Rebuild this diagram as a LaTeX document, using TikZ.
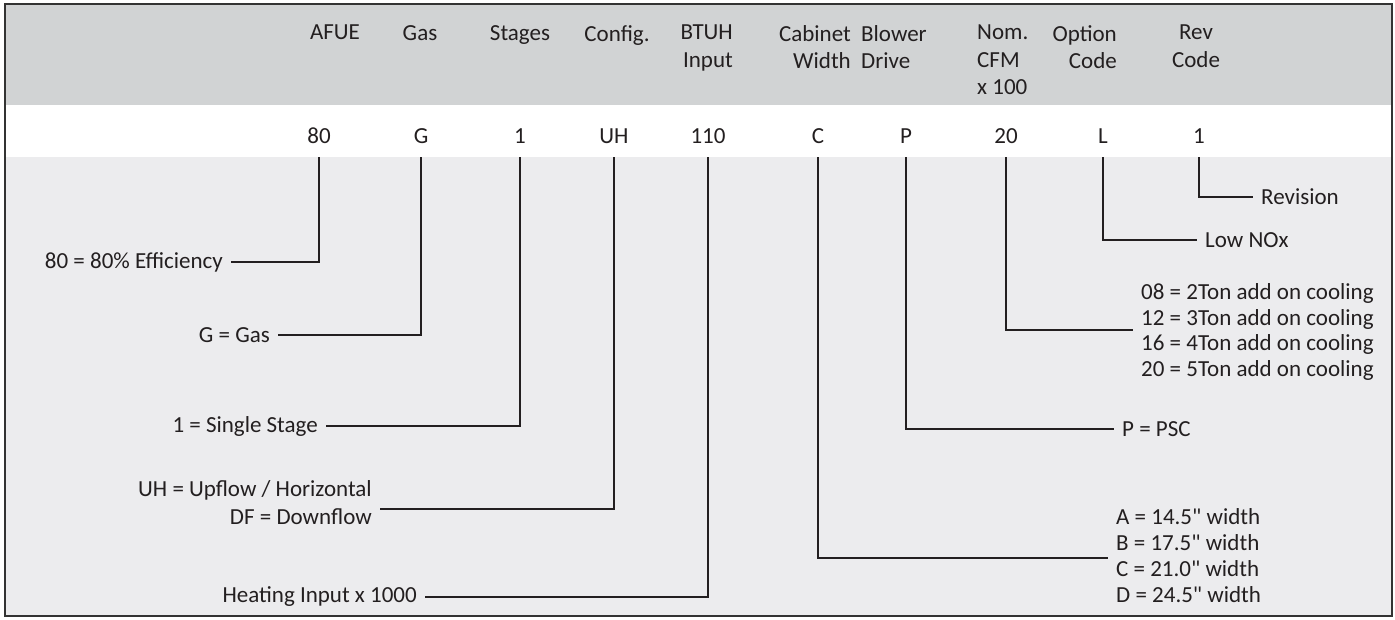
\documentclass[tikz,border=0pt]{standalone}
\usepackage{fontspec}
\setmainfont{Carlito}
\definecolor{hdr}{HTML}{D1D3D4}
\definecolor{bodygray}{HTML}{ECECEE}
\definecolor{ink}{HTML}{231F20}
\begin{document}
\begin{tikzpicture}[x=1pt,y=-1pt,
  txt/.style={font=\fontsize{23}{27.5}\selectfont, text=ink, inner sep=0pt},
  hd/.style={txt, anchor=north},
  val/.style={txt, anchor=base, text depth=14pt},
  lab/.style={txt, inner xsep=8pt},
  conn/.style={draw=ink, line width=2.2pt},
]
\useasboundingbox (0,0) rectangle (1395,619);
\fill[hdr] (5,4) rectangle (1392,105);
\fill[white] (5,105) rectangle (1392,157);
\fill[bodygray] (5,157) rectangle (1392,616);
\draw[line width=1.8pt, draw=black!80] (5,4) rectangle (1392,616);

% header
\node[hd] (hAFUE) at (335,25) {AFUE};
\node[hd] (hGas) at (420,25) {Gas};
\node[hd] (hStg) at (520,25) {Stages};
\node[hd] (hCfg) at (617,25) {Config.};
\node[hd, anchor=north east, align=right] (hBTU) at (733,25) {BTUH\\Input};
\node[hd, anchor=north east, align=right] (hCab) at (851,25) {Cabinet\\Width};
\node[hd, anchor=north west, align=left] (hBlw) at (861,25) {Blower\\Drive};
\node[hd, anchor=north west, align=left] (hCFM) at (977,25) {Nom.\\CFM\\x 100};
\node[hd, anchor=north east, align=right] (hOpt) at (1117,25) {Option\\Code};
\node[hd, align=center] (hRev) at (1196,25) {Rev\\Code};

% values
\node[val] (v80) at (319,143) {80};
\node[val] (vG) at (421,143) {G};
\node[val] (v1) at (520,143) {1};
\node[val] (vUH) at (614,143) {UH};
\node[val] (v110) at (708,143) {110};
\node[val] (vC) at (818,143) {C};
\node[val] (vP) at (906,143) {P};
\node[val] (v20) at (1006,143) {20};
\node[val] (vL) at (1103,143) {L};
\node[val] (vR) at (1199,143) {1};

% labels
\node[lab, anchor=east] (l80) at (231,262) {80 = 80\% Efficiency};
\node[lab, anchor=east] (lG) at (278,335) {G = Gas};
\node[lab, anchor=east] (l1) at (326,426) {1 = Single Stage};
\node[lab, anchor=east, align=right, font=\fontsize{23}{28}\selectfont] (lUH) at (380,503) {UH = Upflow / Horizontal\\DF = Downflow};
\node[lab, anchor=east] (lHI) at (425,597) {Heating Input x 1000};
\node[lab, anchor=west] (lRev) at (1253,197) {Revision};
\node[lab, anchor=west] (lNOx) at (1197,240) {Low NOx};
\node[lab, anchor=west, align=left, font=\fontsize{23}{25.5}\selectfont] (lCFM) at (1133,332) {08 = 2Ton add on cooling\\12 = 3Ton add on cooling\\16 = 4Ton add on cooling\\20 = 5Ton add on cooling};
\node[lab, anchor=west] (lP) at (1114,429) {P = PSC};
\node[lab, anchor=west, align=left, font=\fontsize{23}{26}\selectfont] (lCab) at (1108,556) {A = 14.5\textquotedbl{} width\\B = 17.5\textquotedbl{} width\\C = 21.0\textquotedbl{} width\\D = 24.5\textquotedbl{} width};

% connectors
\draw[conn] (v80.south) |- (l80.east);
\draw[conn] (vG.south) |- (lG.east);
\draw[conn] (v1.south) |- (l1.east);
\draw[conn] (vUH.south) |- ([yshift=-6pt]lUH.east);
\draw[conn] (v110.south) |- (lHI.east);
\draw[conn] (vC.south) |- ([yshift=-2pt]lCab.west);
\draw[conn] (vP.south) |- (lP.west);
\draw[conn] (v20.south) |- ([yshift=2pt]lCFM.west);
\draw[conn] (vL.south) |- (lNOx.west);
\draw[conn] (vR.south) |- (lRev.west);
\end{tikzpicture}
\end{document}
